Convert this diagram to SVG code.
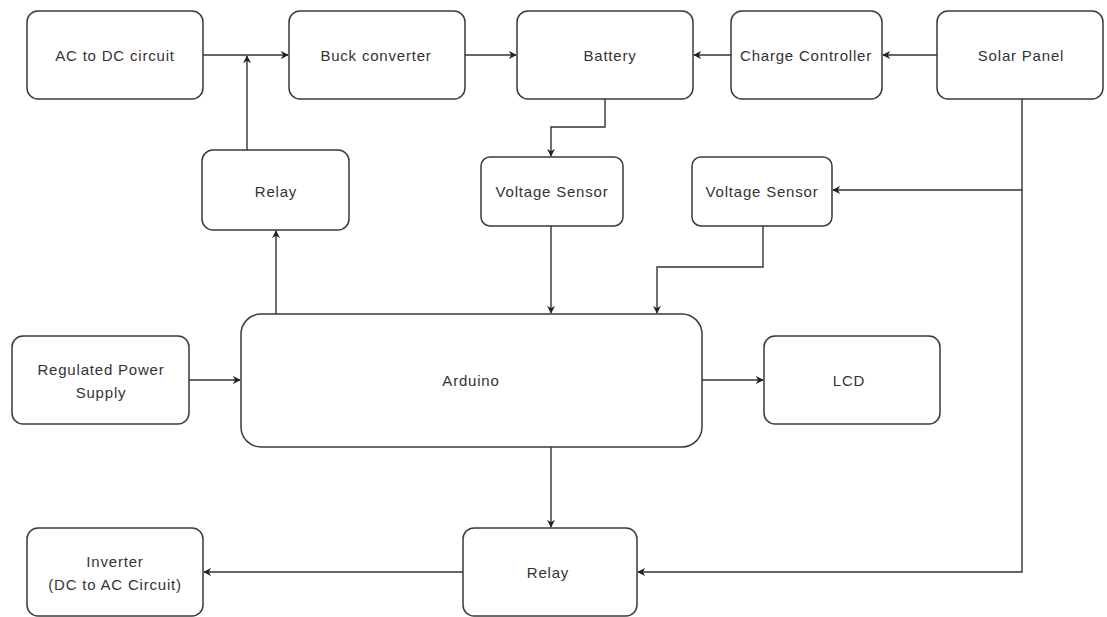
<svg xmlns="http://www.w3.org/2000/svg" width="1107" height="617" viewBox="0 0 1107 617">
<style>
.box{fill:#fff;stroke:#3a3a3a;stroke-width:1.5}
.lbl{font-family:"Liberation Sans",Arial,sans-serif;font-size:15px;letter-spacing:0.8px;fill:#333;text-anchor:middle;dominant-baseline:central}
.ln{fill:none;stroke:#333;stroke-width:1.4}
</style>
<defs>
<marker id="ah" viewBox="0 0 10 10" refX="9" refY="5" markerWidth="8" markerHeight="8" markerUnits="userSpaceOnUse" orient="auto">
<path d="M0,0 L10,5 L0,10 L3,5 Z" fill="#222"/>
</marker>
</defs>
<rect width="1107" height="617" fill="#fff"/>
<g id="connectors">
<path class="ln" d="M203,55 H288" marker-end="url(#ah)"/>
<path class="ln" d="M247,150 V56" marker-end="url(#ah)"/>
<path class="ln" d="M465,55 H516" marker-end="url(#ah)"/>
<path class="ln" d="M731,55 H694" marker-end="url(#ah)"/>
<path class="ln" d="M937,55 H883" marker-end="url(#ah)"/>
<path class="ln" d="M605,99 V127 H551 V156" marker-end="url(#ah)"/>
<path class="ln" d="M1022,99 V190 H833" marker-end="url(#ah)"/>
<path class="ln" d="M1022,190 V572 H638" marker-end="url(#ah)"/>
<path class="ln" d="M551,226 V313" marker-end="url(#ah)"/>
<path class="ln" d="M763,226 V267 H657 V313" marker-end="url(#ah)"/>
<path class="ln" d="M276,314 V231" marker-end="url(#ah)"/>
<path class="ln" d="M189,380 H240" marker-end="url(#ah)"/>
<path class="ln" d="M702,380 H763" marker-end="url(#ah)"/>
<path class="ln" d="M551,447 V527" marker-end="url(#ah)"/>
<path class="ln" d="M463,572 H204" marker-end="url(#ah)"/>
</g>
<g id="ac-dc"><rect class="box" x="27" y="11" width="176" height="88" rx="11"/><text class="lbl" x="115" y="55">AC to DC circuit</text></g>
<g id="buck"><rect class="box" x="289" y="11" width="176" height="88" rx="11"/><text class="lbl" x="376" y="55">Buck converter</text></g>
<g id="battery"><rect class="box" x="517" y="11" width="176" height="88" rx="11"/><text class="lbl" x="610" y="55">Battery</text></g>
<g id="charge"><rect class="box" x="731" y="11" width="151" height="88" rx="11"/><text class="lbl" x="806" y="55">Charge Controller</text></g>
<g id="solar"><rect class="box" x="937" y="11" width="166" height="88" rx="11"/><text class="lbl" x="1021" y="55">Solar Panel</text></g>
<g id="relay-top"><rect class="box" x="202" y="150" width="147" height="80" rx="11"/><text class="lbl" x="276" y="191">Relay</text></g>
<g id="vs1"><rect class="box" x="481" y="157" width="142" height="69" rx="9"/><text class="lbl" x="552" y="191">Voltage Sensor</text></g>
<g id="vs2"><rect class="box" x="692" y="157" width="140" height="69" rx="9"/><text class="lbl" x="762" y="191">Voltage Sensor</text></g>
<g id="rps"><rect class="box" x="12" y="336" width="177" height="88" rx="11"/><text class="lbl" x="101" y="369">Regulated Power</text><text class="lbl" x="101" y="392">Supply</text></g>
<g id="arduino"><rect class="box" x="241" y="314" width="461" height="133" rx="20"/><text class="lbl" x="471" y="380">Arduino</text></g>
<g id="lcd"><rect class="box" x="764" y="336" width="176" height="88" rx="11"/><text class="lbl" x="849" y="380">LCD</text></g>
<g id="inverter"><rect class="box" x="27" y="528" width="176" height="88" rx="11"/><text class="lbl" x="115" y="561">Inverter</text><text class="lbl" x="115" y="584">(DC to AC Circuit)</text></g>
<g id="relay-bottom"><rect class="box" x="463" y="528" width="174" height="88" rx="11"/><text class="lbl" x="548" y="572">Relay</text></g>
</svg>
